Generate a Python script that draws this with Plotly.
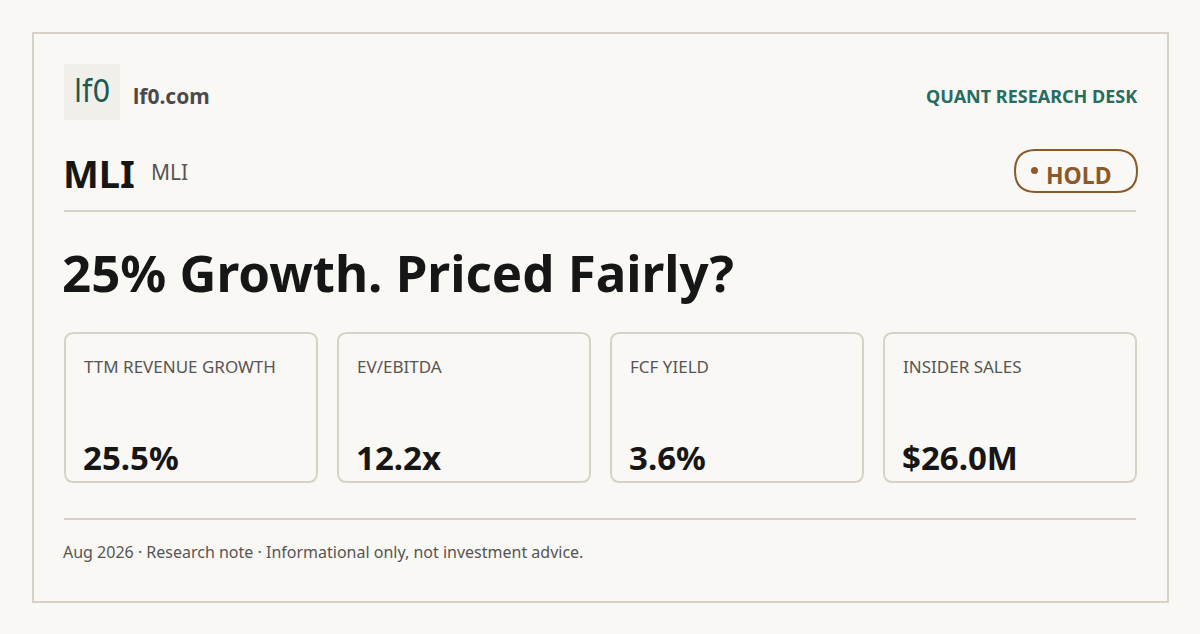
import plotly.graph_objects as go

W, H = 1200, 634

brand = "lf0.com"
desk = "QUANT RESEARCH DESK"
ticker = "MLI"
ticker_sub = "MLI"
rating = "HOLD"
headline = "25% Growth. Priced Fairly?"
metric_labels = ["TTM REVENUE GROWTH", "EV/EBITDA", "FCF YIELD", "INSIDER SALES"]
metric_values = ["25.5%", "12.2x", "3.6%", "$26.0M"]
footer = "Aug 2026 · Research note · Informational only, not investment advice."

FONT = "Noto Sans"
BG = "#faf8f4"
LINE = "#d8d2c6"
TEAL = "#1f5a52"
BROWN = "#8b5a2b"
INK = "#161616"
GREY = "#555555"


def rounded(x0, y0, x1, y1, r):
    return (f"M {x0+r},{y0} L {x1-r},{y0} Q {x1},{y0} {x1},{y0+r} "
            f"L {x1},{y1-r} Q {x1},{y1} {x1-r},{y1} L {x0+r},{y1} "
            f"Q {x0},{y1} {x0},{y1-r} L {x0},{y0+r} Q {x0},{y0} {x0+r},{y0} Z")


fig = go.Figure()
shapes = []
ann = []


def text(x, y, s, size, color, bold=False, anchor="left", family=FONT):
    ann.append(dict(x=x, y=y, text=f"<b>{s}</b>" if bold else s, showarrow=False,
                    xanchor=anchor, yanchor="middle",
                    font=dict(family=family, size=size, color=color)))


# outer frame
shapes.append(dict(type="rect", x0=33, y0=33, x1=1168, y1=602,
                   line=dict(color=LINE, width=2), fillcolor=BG, layer="below"))

# logo
shapes.append(dict(type="rect", x0=64, y0=64, x1=120, y1=120,
                   line=dict(width=0), fillcolor="#f0efea"))
text(92, 91, "lf0", 32, TEAL, family="DejaVu Sans Condensed", anchor="center")
text(131, 96, brand, 21, "#4a4a4a", bold=True)
text(1139, 96, desk, 18, "#2a6b60", bold=True, anchor="right")

# ticker row
text(61, 173, ticker, 38, INK, bold=True)
text(149, 172, ticker_sub, 21, GREY)

# rating badge
shapes.append(dict(type="path", path=rounded(1015, 150, 1137, 192, 21),
                   line=dict(color=BROWN, width=2)))
shapes.append(dict(type="circle", x0=1031, y0=167, x1=1038, y1=174,
                   fillcolor=BROWN, line=dict(width=0)))
text(1044, 175, rating, 23, BROWN, bold=True)

# dividers
for y in (211, 519):
    shapes.append(dict(type="line", x0=64, x1=1136, y0=y, y1=y,
                       line=dict(color=LINE, width=2)))

text(60, 272, headline, 51, INK, bold=True)

# metric cards
card_x = [65, 338, 611, 884]
for cx, lab, val in zip(card_x, metric_labels, metric_values):
    shapes.append(dict(type="path", path=rounded(cx, 333, cx + 252, 482, 9),
                       line=dict(color=LINE, width=2)))
    text(cx + 17, 366, lab, 17, GREY)
    text(cx + 16, 457, val, 33, INK, bold=True)

text(61, 552, footer, 16, GREY)

fig.update_layout(
    width=W, height=H, margin=dict(l=0, r=0, t=0, b=0),
    paper_bgcolor=BG, plot_bgcolor=BG,
    xaxis=dict(range=[0, W], visible=False, fixedrange=True),
    yaxis=dict(range=[H, 0], visible=False, fixedrange=True),
    shapes=shapes, annotations=ann, showlegend=False,
)
fig.write_html("out.html", config={"displayModeBar": False},
               post_script="document.body.style.margin='0';document.body.style.background='#faf8f4';")
